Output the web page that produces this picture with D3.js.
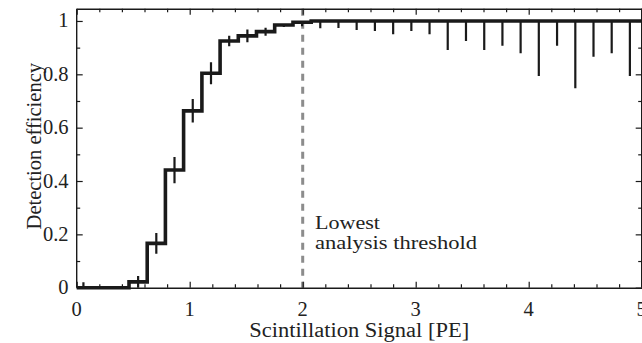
<!DOCTYPE html>
<html>
<head>
<meta charset="utf-8">
<script src="https://cdn.jsdelivr.net/npm/d3@7"></script>
<style>
  html, body { margin: 0; padding: 0; background: #fff; }
  svg { display: block; }
  text { font-family: "Liberation Serif", "Times New Roman", serif; fill: #222; }
</style>
</head>
<body>
<svg id="chart" width="642" height="343"></svg>
<script>
// ---- data ----
const binEdges = [-0.021, 0.140, 0.302, 0.463, 0.624, 0.785, 0.946, 1.108, 1.269, 1.430,
  1.591, 1.752, 1.914, 2.075, 2.236, 2.397, 2.558, 2.720, 2.881, 3.042, 3.203, 3.364,
  3.526, 3.687, 3.848, 4.009, 4.170, 4.332, 4.493, 4.654, 4.815, 4.976, 5.138];
const efficiency = [0, 0, 0, 0.022, 0.166, 0.441, 0.663, 0.804, 0.925, 0.944, 0.960,
  0.985, 0.995, 1, 1, 1, 1, 1, 1, 1, 1, 1, 1, 1, 1, 1, 1, 1, 1, 1, 1, 1];
const errLow = [0, 0, 0, 0.022, 0.039, 0.049, 0.044, 0.041, 0.020, 0.024, 0.015,
  0.008, 0.015, 0.027, 0.026, 0.034, 0.038, 0.050, 0.038, 0.050, 0.109, 0.075, 0.109,
  0.093, 0.121, 0.206, 0.093, 0.252, 0.134, 0.121, 0.206, 0];
const errHigh = [0.02, 0, 0, 0.022, 0.039, 0.049, 0.044, 0.041, 0.020, 0.024, 0.015,
  0, 0, 0, 0, 0, 0, 0, 0, 0, 0, 0, 0, 0, 0, 0, 0, 0, 0, 0, 0, 0];
const xTicks = [0, 1, 2, 3, 4, 5];
const xTickLabels = ["0", "1", "2", "3", "4", "5"];
const yTicks = [0, 0.2, 0.4, 0.6, 0.8, 1];
const yTickLabels = ["0", "0.2", "0.4", "0.6", "0.8", "1"];
const thresholdX = 2;
const thresholdLabel = ["Lowest", "analysis threshold"];
const thresholdLabelWidth = [65, 162];
const xTitle = "Scintillation Signal [PE]";
const yTitle = "Detection efficiency";

// ---- layout ----
const L = 76.7, R = 641.7, T = 8.7, B = 287.7;
const svg = d3.select("#chart");
const x = d3.scaleLinear().domain([0, 5]).range([L, R]);
const y = d3.scaleLinear().domain([0, 1.046]).range([B, T]);

svg.append("defs").append("clipPath").attr("id", "plotclip")
  .append("rect").attr("x", L).attr("y", T - 3).attr("width", R - L).attr("height", B - T + 6);

// threshold dashed line
svg.append("line")
  .attr("x1", x(thresholdX)).attr("x2", x(thresholdX))
  .attr("y1", y(1.046)).attr("y2", y(0))
  .attr("stroke", "#8c8c8c").attr("stroke-width", 3)
  .attr("stroke-dasharray", "7,6");

const g = svg.append("g").attr("clip-path", "url(#plotclip)");

// error bars
const bins = efficiency.map((v, i) => ({
  c: (binEdges[i] + binEdges[i + 1]) / 2, v, lo: errLow[i], hi: errHigh[i]
}));
g.selectAll("line.err").data(bins.filter(d => d.lo > 0 || d.hi > 0)).enter()
  .append("line").attr("class", "err")
  .attr("x1", d => x(d.c)).attr("x2", d => x(d.c))
  .attr("y1", d => y(d.v - d.lo)).attr("y2", d => y(d.v + d.hi))
  .attr("stroke", "#1a1a1a").attr("stroke-width", 2.2);

// step histogram
const pts = efficiency.map((v, i) => [binEdges[i], v]);
pts.push([binEdges[binEdges.length - 1], efficiency[efficiency.length - 1]]);
const line = d3.line().x(d => x(d[0])).y(d => y(d[1])).curve(d3.curveStepAfter);
g.append("path").attr("d", line(pts))
  .attr("fill", "none").attr("stroke", "#1a1a1a").attr("stroke-width", 3.6)
  .attr("stroke-linejoin", "miter");

// axes (ticks inside, mirrored)
const axisStyle = sel => {
  sel.select(".domain").attr("stroke", "#1a1a1a").attr("stroke-width", 1.4);
  sel.selectAll(".tick line").attr("stroke", "#1a1a1a").attr("stroke-width", 1.2);
};
const fs = 20.5;
const xMinor = d3.range(0, 5.0001, 0.2);
const yMinor = d3.range(0, 1.0001, 0.1);

// bottom
const gb = svg.append("g").attr("transform", `translate(0,${B})`);
gb.call(d3.axisBottom(x).tickValues(xMinor).tickSize(-3.5).tickFormat("").tickSizeOuter(0));
gb.call(g2 => g2.selectAll(".tick").filter(d => xTicks.some(t => Math.abs(t - d) < 1e-6)).select("line").attr("y2", -6));
axisStyle(gb);
// top
const gt = svg.append("g").attr("transform", `translate(0,${T})`);
gt.call(d3.axisTop(x).tickValues(xMinor).tickSize(-3.5).tickFormat("").tickSizeOuter(0));
gt.call(g2 => g2.selectAll(".tick").filter(d => xTicks.some(t => Math.abs(t - d) < 1e-6)).select("line").attr("y2", 6));
axisStyle(gt);
// left
const gl = svg.append("g").attr("transform", `translate(${L},0)`);
gl.call(d3.axisLeft(y).tickValues(yMinor).tickSize(-3.5).tickFormat("").tickSizeOuter(0));
gl.call(g2 => g2.selectAll(".tick").filter(d => yTicks.some(t => Math.abs(t - d) < 1e-6)).select("line").attr("x2", 6));
gl.select(".domain").attr("d", `M0,${B}V${T}`);
axisStyle(gl);
// right
const gr = svg.append("g").attr("transform", `translate(${R},0)`);
gr.call(d3.axisRight(y).tickValues(yMinor).tickSize(-3.5).tickFormat("").tickSizeOuter(0));
gr.call(g2 => g2.selectAll(".tick").filter(d => yTicks.some(t => Math.abs(t - d) < 1e-6)).select("line").attr("x2", -6));
gr.select(".domain").attr("d", `M0,${B}V${T}`);
axisStyle(gr);

// tick labels
svg.append("g").selectAll("text").data(xTicks).enter().append("text")
  .attr("x", d => x(d)).attr("y", 316)
  .attr("text-anchor", "middle").attr("font-size", fs)
  .text((d, i) => xTickLabels[i]);
svg.append("g").selectAll("text").data(yTicks).enter().append("text")
  .attr("x", 68.5).attr("y", d => y(d) + 6.5)
  .attr("text-anchor", "end").attr("font-size", fs)
  .text((d, i) => yTickLabels[i]);

// titles
svg.append("text").attr("x", (L + R) / 2).attr("y", 337)
  .attr("text-anchor", "middle").attr("font-size", 20.5)
  .attr("textLength", 220).attr("lengthAdjust", "spacingAndGlyphs").text(xTitle);
svg.append("text").attr("transform", `translate(41,${(T + B) / 2 - 2}) rotate(-90)`)
  .attr("text-anchor", "middle").attr("font-size", 20.5).text(yTitle);

// annotation
svg.append("g").selectAll("text").data(thresholdLabel).enter().append("text")
  .attr("x", 315).attr("y", (d, i) => 228.5 + i * 20)
  .attr("font-size", 19.5)
  .attr("textLength", (d, i) => thresholdLabelWidth[i]).attr("lengthAdjust", "spacingAndGlyphs")
  .text(d => d);
</script>
</body>
</html>
